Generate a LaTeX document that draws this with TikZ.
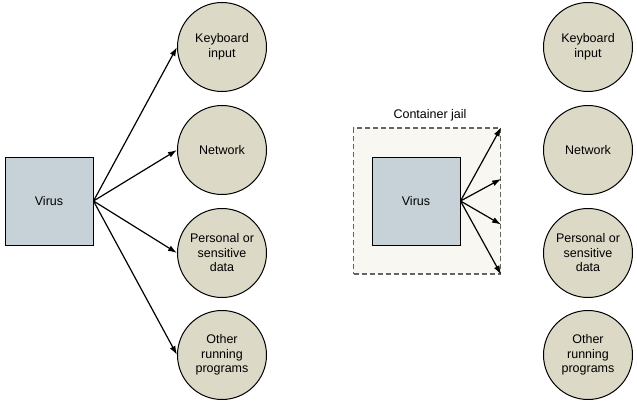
\documentclass[tikz,border=0pt]{standalone}
\usepackage{fontspec}
\setmainfont{Liberation Sans}
\definecolor{virusfill}{RGB}{199, 210, 216}
\definecolor{targetfill}{RGB}{220, 217, 199}
\definecolor{jailfill}{RGB}{248, 247, 242}
\definecolor{jailline}{RGB}{100, 100, 100}
\usetikzlibrary{arrows.meta, positioning, calc}
\tikzset{
  virusbox/.style={draw, line width=1pt, fill=virusfill, minimum size=88pt, inner sep=0pt, font=\fontsize{12.5}{14.5}\selectfont},
  target/.style={draw, line width=1pt, circle, fill=targetfill, minimum size=89pt, inner sep=0pt, align=center, font=\fontsize{12.5}{14.5}\selectfont},
  reach/.style={-{Latex[length=9pt, width=6pt]}, line width=1.2pt}
}

\begin{document}
\begin{tikzpicture}[x=1pt, y=-1pt]
  \useasboundingbox (0, 0) rectangle (637, 404);

  % Unconfined virus
  \node[virusbox] (v1) at (49, 201) {Virus};
  \node[target] (k1) at (222, 47) {Keyboard\\input};
  \node[target] (n1) at (222, 150) {Network};
  \node[target] (p1) at (222, 253) {Personal or\\sensitive\\data};
  \node[target] (o1) at (222, 355) {Other\\running\\programs};
  \draw[reach] (v1.east) -- (k1.west);
  \draw[reach] (v1.east) -- (n1.west);
  \draw[reach] (v1.east) -- (p1.west);
  \draw[reach] (v1.east) -- (o1.west);

  % Container jail
  \node[draw=jailline, line width=1.2pt, dash pattern=on 5pt off 3pt, fill=jailfill, minimum width=147pt, minimum height=146pt] (jail) at (427, 201) {};
  \node[font=\fontsize{12.5}{14.5}\selectfont, above=3pt of jail, xshift=3pt] (jaillabel) {Container jail};
  \node[virusbox] (v2) at (416, 201) {Virus};
  \coordinate (e2) at ($(jail.north east)!0.35!(jail.south east)$);
  \coordinate (e3) at ($(jail.north east)!0.66!(jail.south east)$);
  \draw[reach] (v2.east) -- (jail.north east);
  \draw[reach] (v2.east) -- (e2);
  \draw[reach] (v2.east) -- (e3);
  \draw[reach] (v2.east) -- (jail.south east);

  % Out of reach
  \node[target] (k2) at (588, 47) {Keyboard\\input};
  \node[target] (n2) at (588, 150) {Network};
  \node[target] (p2) at (588, 253) {Personal or\\sensitive\\data};
  \node[target] (o2) at (588, 355) {Other\\running\\programs};
\end{tikzpicture}
\end{document}
